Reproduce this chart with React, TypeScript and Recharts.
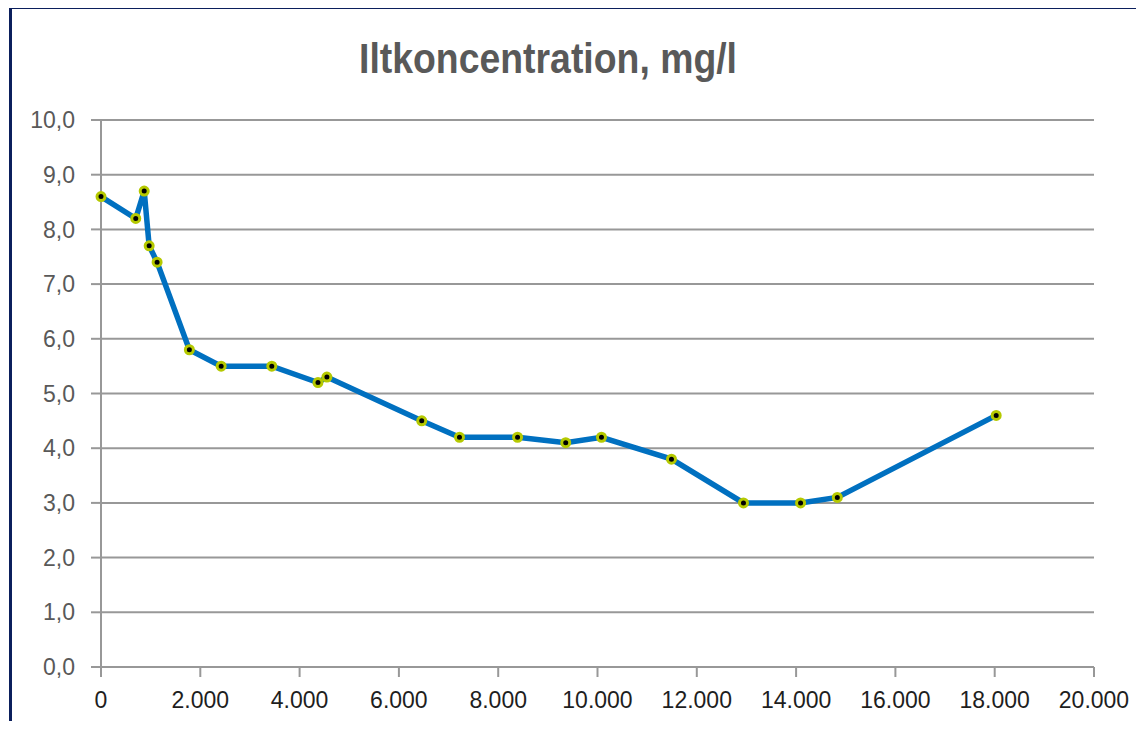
import React from "react";
import { LineChart, Line, XAxis, YAxis, CartesianGrid } from "recharts";

const distances = [0, 700, 870, 970, 1130, 1780, 2420, 3440, 4370, 4550, 6460, 7220, 8390, 9360, 10080, 11490, 12940, 14090, 14830, 18030];
const oxygen = [8.6, 8.2, 8.7, 7.7, 7.4, 5.8, 5.5, 5.5, 5.2, 5.3, 4.5, 4.2, 4.2, 4.1, 4.2, 3.8, 3.0, 3.0, 3.1, 4.6];
const xTicks = [0, 2000, 4000, 6000, 8000, 10000, 12000, 14000, 16000, 18000, 20000];
const yTicks = [0, 1, 2, 3, 4, 5, 6, 7, 8, 9, 10];
const title = "Iltkoncentration, mg/l";

const data = distances.map((d, i) => ({ x: d, y: oxygen[i] }));

const fmtX = (v: number) => (v === 0 ? "0" : String(v).replace(/\B(?=(\d{3})+(?!\d))/g, "."));
const fmtY = (v: number) => v.toFixed(1).replace(".", ",");

const font = "'Liberation Sans', Arial, sans-serif";

export default function App() {
  return (
    <div style={{ margin: -8, position: "relative", width: 1144, height: 729, overflow: "hidden", background: "#fff" }}>
      <div
        style={{
          position: "absolute",
          left: 9,
          top: 6,
          width: 1300,
          height: 900,
          border: "3px solid #0b1f5c",
          boxSizing: "border-box",
        }}
      />
      <svg width={1144} height={100} style={{ position: "absolute", left: 0, top: 0 }}>
        <text
          x={548}
          y={73}
          textAnchor="middle"
          fontFamily={font}
          fontWeight="bold"
          fontSize={43}
          fill="#595959"
          textLength={378}
          lengthAdjust="spacingAndGlyphs"
        >
          {title}
        </text>
      </svg>
      <div style={{ position: "absolute", left: 0, top: 0 }}>
        <LineChart width={1144} height={729} data={data} margin={{ top: 120, right: 50, bottom: 0, left: 0 }}>
          <CartesianGrid vertical={false} stroke="#989898" strokeWidth={2} />
          <XAxis
            dataKey="x"
            type="number"
            domain={[0, 20000]}
            ticks={xTicks}
            tickFormatter={fmtX}
            height={62}
            tickSize={10}
            tickMargin={15}
            axisLine={{ stroke: "#989898", strokeWidth: 2 }}
            tickLine={{ stroke: "#989898", strokeWidth: 2 }}
            tick={{ fill: "#1e1e1e", fontSize: 23, fontFamily: font }}
            interval={0}
          />
          <YAxis
            type="number"
            domain={[0, 10]}
            ticks={yTicks}
            tickFormatter={fmtY}
            width={101}
            tickSize={10}
            tickMargin={16}
            axisLine={{ stroke: "#989898", strokeWidth: 2 }}
            tickLine={{ stroke: "#989898", strokeWidth: 2 }}
            tick={{ fill: "#595959", fontSize: 23, fontFamily: font }}
            interval={0}
          />
          <Line
            type="linear"
            dataKey="y"
            stroke="#0070c0"
            strokeWidth={5.5}
            dot={{ r: 4, fill: "#000", stroke: "#b5c900", strokeWidth: 3 }}
            isAnimationActive={false}
          />
        </LineChart>
      </div>
    </div>
  );
}
